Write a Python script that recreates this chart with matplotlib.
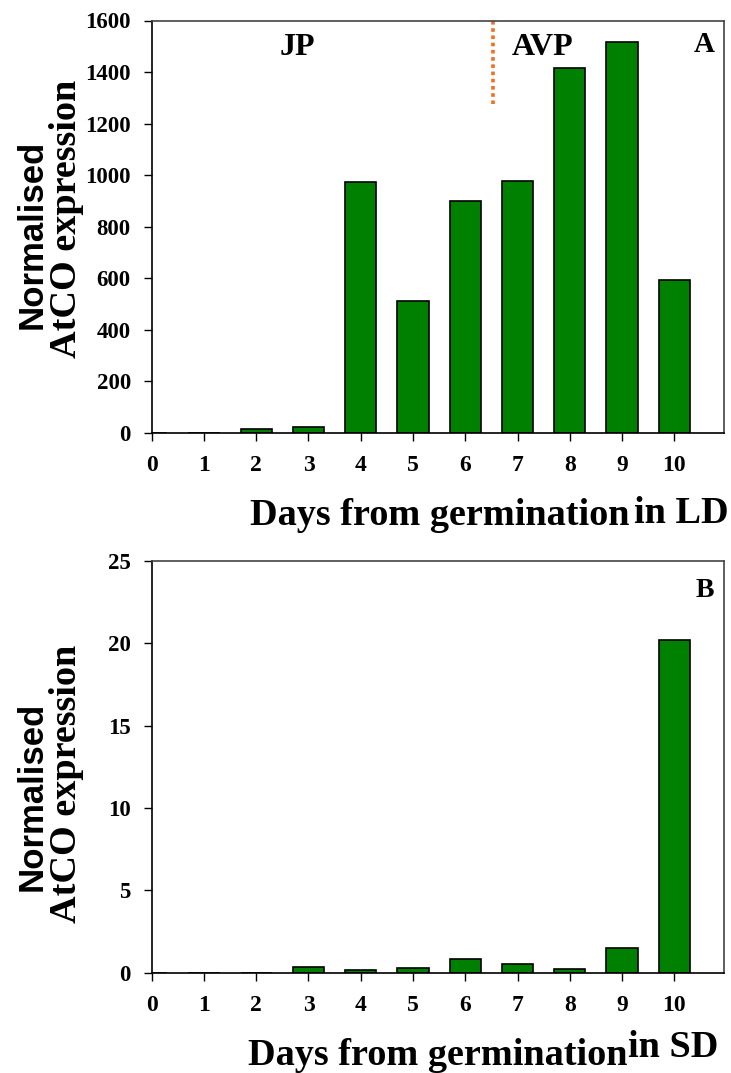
import matplotlib
matplotlib.use("Agg")
import matplotlib.pyplot as plt
import numpy as np

days = list(range(11))
ld_expr = [0, 0, 15, 22, 974, 512, 900, 977, 1416, 1518, 593]
sd_expr = [0, 0, 0, 0.33, 0.15, 0.27, 0.81, 0.53, 0.24, 1.48, 20.2]

ld_ticks = [0, 200, 400, 600, 800, 1000, 1200, 1400, 1600]
sd_ticks = [0, 5, 10, 15, 20, 25]

SERIF = "Liberation Serif"
SANS = "Liberation Sans"
W, H = 731, 1073

fig = plt.figure(figsize=(W / 100, H / 100), dpi=100)


def px_axes(left, top, right, bottom):
    return fig.add_axes([left / W, 1 - bottom / H, (right - left) / W, (bottom - top) / H])


def style(ax, vals, yticks):
    ax.bar(days, vals, width=0.6, color="#008000", edgecolor="black", linewidth=1.2)
    ax.set_xlim(0, 10.95)
    ax.set_ylim(yticks[0], yticks[-1])
    ax.set_xticks(days)
    ax.set_yticks(yticks)
    ax.tick_params(axis="x", direction="out", length=6, width=1, pad=10, labelsize=17)
    ax.tick_params(axis="y", direction="out", length=6, width=1, pad=9, labelsize=16.5)
    for lab in ax.get_xticklabels() + ax.get_yticklabels():
        lab.set_fontfamily(SERIF)
        lab.set_fontweight("bold")
    for s in ["left", "bottom"]:
        ax.spines[s].set_linewidth(1.2)
        ax.spines[s].set_color("black")
    for s in ["top", "right"]:
        ax.spines[s].set_linewidth(1.2)
        ax.spines[s].set_color("#444444")


# long-day panel
ax1 = px_axes(151.7, 20.5, 724, 433)
style(ax1, ld_expr, ld_ticks)
ax1.plot([6.53, 6.53], [1600, 1278], color="#F07020", linestyle=(0, (1, 1)), linewidth=2.6)
ax1.text(2.78, 1497, "JP", fontsize=23, fontfamily=SERIF, fontweight="bold", ha="center", va="center")
ax1.text(7.48, 1497, "AVP", fontsize=23, fontfamily=SERIF, fontweight="bold", ha="center", va="center")
ax1.text(10.58, 1505, "A", fontsize=21, fontfamily=SERIF, fontweight="bold", ha="center", va="center")

# short-day panel
ax2 = px_axes(151.7, 561, 724, 972.7)
style(ax2, sd_expr, sd_ticks)
ax2.text(10.58, 23.2, "B", fontsize=20, fontfamily=SERIF, fontweight="bold", ha="center", va="center")


def ylabel(yc1, yc2):
    fig.text(42 / W, 1 - yc1 / H, "Normalised", rotation=90, rotation_mode="anchor",
             ha="center", va="baseline", fontsize=25, fontfamily=SANS, fontweight="bold")
    fig.text(76 / W, 1 - yc2 / H, "AtCO expression", rotation=90, rotation_mode="anchor",
             ha="center", va="baseline", fontsize=27.5, fontfamily=SERIF, fontweight="bold")


ylabel(234, 219)
ylabel(796, 784)

# x axis captions
fig.text(630 / W, 1 - 525 / H, "Days from germination", ha="right", va="baseline",
         fontsize=27.5, fontfamily=SERIF, fontweight="bold")
fig.text(634 / W, 1 - 523 / H, "in LD", ha="left", va="baseline",
         fontsize=27.5, fontfamily=SERIF, fontweight="bold")
fig.text(627 / W, 1 - 1065 / H, "Days from germination", ha="right", va="baseline",
         fontsize=27.5, fontfamily=SERIF, fontweight="bold")
fig.text(628 / W, 1 - 1057 / H, "in SD", ha="left", va="baseline",
         fontsize=27.5, fontfamily=SERIF, fontweight="bold")

fig.savefig("out.png", dpi=100)
